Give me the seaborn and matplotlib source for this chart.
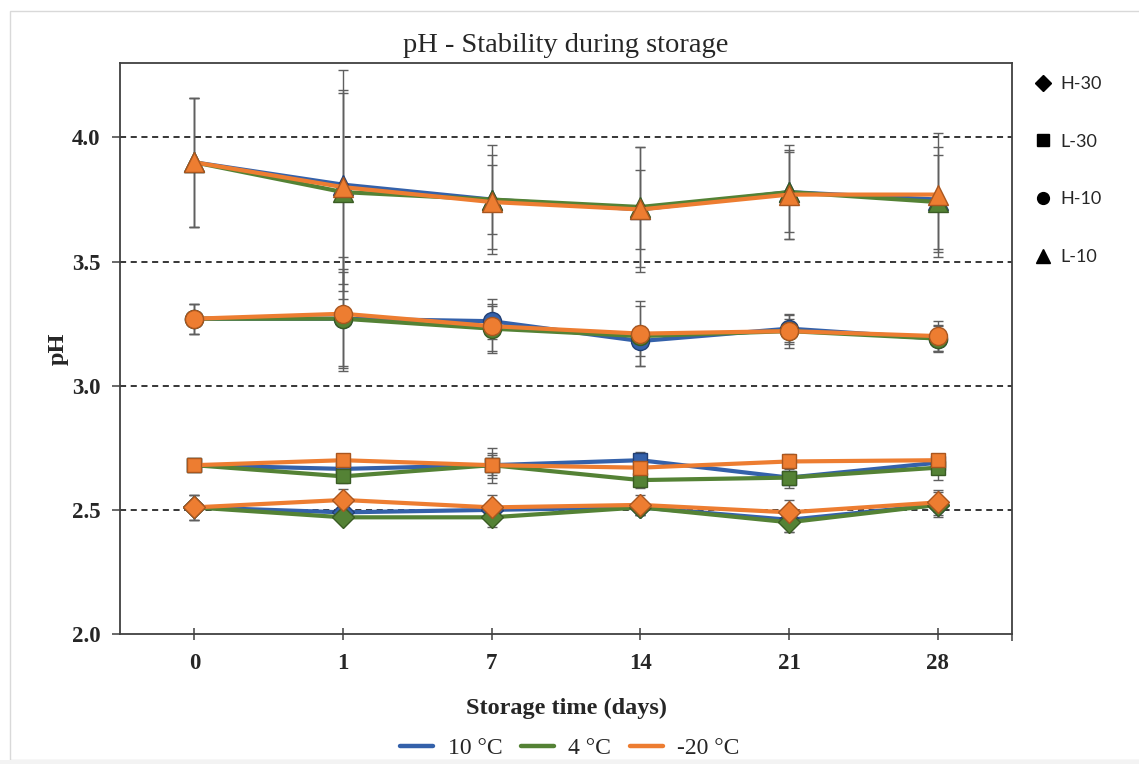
import numpy as np
import pandas as pd
import matplotlib
matplotlib.use("Agg")
import matplotlib.pyplot as plt
from matplotlib.lines import Line2D
from matplotlib.patches import Rectangle
import seaborn as sns

# ---- data -------------------------------------------------------------
days = ["0", "1", "7", "14", "21", "28"]
temps = ["10 °C", "4 °C", "-20 °C"]
formulations = ["H-30", "L-30", "H-10", "L-10"]

# mean pH per formulation and storage temperature
h30_10 = [2.51, 2.49, 2.50, 2.51, 2.46, 2.52]
h30_4 = [2.51, 2.47, 2.47, 2.51, 2.45, 2.52]
h30_m20 = [2.51, 2.54, 2.51, 2.52, 2.49, 2.53]

l30_10 = [2.68, 2.665, 2.68, 2.70, 2.63, 2.69]
l30_4 = [2.68, 2.635, 2.68, 2.62, 2.63, 2.67]
l30_m20 = [2.68, 2.70, 2.68, 2.67, 2.695, 2.70]

h10_10 = [3.27, 3.27, 3.26, 3.18, 3.23, 3.19]
h10_4 = [3.27, 3.27, 3.23, 3.20, 3.22, 3.19]
h10_m20 = [3.27, 3.29, 3.24, 3.21, 3.22, 3.20]

l10_10 = [3.90, 3.81, 3.75, 3.71, 3.78, 3.75]
l10_4 = [3.90, 3.78, 3.75, 3.72, 3.78, 3.74]
l10_m20 = [3.90, 3.80, 3.74, 3.71, 3.77, 3.77]

# standard deviations
h30_10_sd = [0.05, 0.03, 0.03, 0.03, 0.05, 0.05]
h30_4_sd = [0.05, 0.02, 0.04, 0.03, 0.04, 0.03]
h30_m20_sd = [0.05, 0.045, 0.05, 0.04, 0.05, 0.05]

l30_10_sd = [0.01, 0.02, 0.07, 0.035, 0.04, 0.02]
l30_4_sd = [0.01, 0.025, 0.05, 0.03, 0.02, 0.05]
l30_m20_sd = [0.01, 0.02, 0.04, 0.02, 0.03, 0.02]

h10_10_sd = [0.06, 0.20, 0.07, 0.06, 0.055, 0.055]
h10_4_sd = [0.06, 0.19, 0.09, 0.12, 0.05, 0.05]
h10_m20_sd = [0.06, 0.23, 0.11, 0.13, 0.07, 0.06]

l10_10_sd = [0.26, 0.46, 0.22, 0.25, 0.19, 0.21]
l10_4_sd = [0.26, 0.40, 0.14, 0.24, 0.16, 0.19]
l10_m20_sd = [0.26, 0.39, 0.19, 0.16, 0.18, 0.25]

means = {
    "H-30": [h30_10, h30_4, h30_m20],
    "L-30": [l30_10, l30_4, l30_m20],
    "H-10": [h10_10, h10_4, h10_m20],
    "L-10": [l10_10, l10_4, l10_m20],
}
sds = {
    "H-30": [h30_10_sd, h30_4_sd, h30_m20_sd],
    "L-30": [l30_10_sd, l30_4_sd, l30_m20_sd],
    "H-10": [h10_10_sd, h10_4_sd, h10_m20_sd],
    "L-10": [l10_10_sd, l10_4_sd, l10_m20_sd],
}

rows = []
for f in formulations:
    for t, m, s in zip(temps, means[f], sds[f]):
        for i, d in enumerate(days):
            rows.append({"formulation": f, "temp": t, "day": d, "pos": i,
                         "pH": m[i], "sd": s[i]})
df = pd.DataFrame(rows)

# ---- styling ------------------------------------------------------------
line_colors = {"10 °C": "#3461AA", "4 °C": "#548235", "-20 °C": "#ED7D31"}
edge_colors = {"10 °C": "#213F75", "4 °C": "#3A5C24", "-20 °C": "#A9561F"}
markers = {"H-30": "D", "L-30": "s", "H-10": "o", "L-10": "^"}
msizes = {"H-30": 11, "L-30": 10.5, "H-10": 13, "L-10": 14}

sns.set_theme(style="white")
plt.rcParams["font.family"] = ["Liberation Serif", "DejaVu Serif"]

fig = plt.figure(figsize=(11.39, 7.64), dpi=100)
ax = fig.add_axes([120 / 1139, 1 - 634 / 764, (1012 - 120) / 1139, (634 - 63) / 764])

# outer chart frame
fig.patches.append(Rectangle((9.5 / 1139, 1 - 760 / 764), 1.2, (760 - 10.5) / 764,
                             transform=fig.transFigure, fill=False,
                             edgecolor="#d9d9d9", linewidth=1.0, zorder=0))
fig.patches.append(Rectangle((0, 0), 1, 4 / 764, transform=fig.transFigure,
                             facecolor="#f3f3f3", edgecolor="none", zorder=0))

# error bars first, beneath the lines
for (f, t), g in df.groupby(["formulation", "temp"], sort=False):
    ax.errorbar(g["pos"], g["pH"], yerr=g["sd"], fmt="none", ecolor="#5f5f5f",
                elinewidth=1.0, capsize=3.5, capthick=1.0, zorder=2)

z = 3
for f in formulations:
    for t in temps:
        g = df[(df["formulation"] == f) & (df["temp"] == t)]
        sns.lineplot(data=g, x="pos", y="pH", ax=ax, sort=False, errorbar=None,
                     color=line_colors[t], linewidth=3.0, marker=markers[f],
                     markersize=msizes[f], markerfacecolor=line_colors[t],
                     markeredgecolor=edge_colors[t], markeredgewidth=1.0,
                     zorder=z, legend=False)
        z += 0.1

# axes
ax.set_xlim(-0.5, 5.5)
ax.set_ylim(2.0, 4.3)
ax.set_xticks(range(len(days)))
ax.set_xticklabels(days)
ax.set_xticks([5.5], minor=True)
ax.set_yticks([2.0, 2.5, 3.0, 3.5, 4.0])
ax.set_yticklabels(["2.0", "2.5", "3.0", "3.5", "4.0"])
for y in [2.5, 3.0, 3.5, 4.0]:
    ax.axhline(y, color="black", linestyle=(0, (4, 3)), linewidth=1.1, zorder=1)

for s in ax.spines.values():
    s.set_visible(True)
    s.set_color("#404040")
    s.set_linewidth(1.3)

ax.tick_params(axis="y", direction="out", length=6, width=1.1, color="#404040",
               left=True, pad=8, labelsize=16.5)
ax.tick_params(axis="x", which="major", direction="inout", length=9, width=1.1,
               color="#404040", bottom=True, pad=9, labelsize=16.5)
ax.tick_params(axis="x", which="minor", direction="out", length=5, width=1.1,
               color="#404040", bottom=True)
for lab in ax.get_xticklabels() + ax.get_yticklabels():
    lab.set_fontweight("bold")

ax.set_xlabel("Storage time (days)", fontsize=17.5, fontweight="bold", labelpad=17)
ax.set_ylabel("pH", fontsize=17.5, fontweight="bold", labelpad=2)
ax.set_title("pH - Stability during storage", fontsize=20.5, pad=8)

# legend for storage temperature (colours)
temp_handles = [Line2D([0], [0], color=line_colors[t], linewidth=3.2) for t in temps]
fig.legend(temp_handles, temps, loc="center", bbox_to_anchor=(570 / 1139, 1 - 748 / 764),
           ncol=3, frameon=False, fontsize=17, handlelength=1.4, handletextpad=0.6,
           columnspacing=0.8, borderpad=0.0)

# legend for formulations (marker shapes)
form_handles = [Line2D([0], [0], linestyle="none", marker=markers[f], color="black",
                       markersize={"H-30": 8, "L-30": 8.5, "H-10": 8.5, "L-10": 10}[f])
                for f in formulations]
leg = fig.legend(form_handles, formulations, loc="upper left",
                 bbox_to_anchor=(1018 / 1139, 1 - 60 / 764), frameon=False,
                 handlelength=1.0, handletextpad=0.45, labelspacing=2.3,
                 prop={"family": ["Lato", "DejaVu Sans"], "size": 13})

fig.savefig("out.png", dpi=100)
